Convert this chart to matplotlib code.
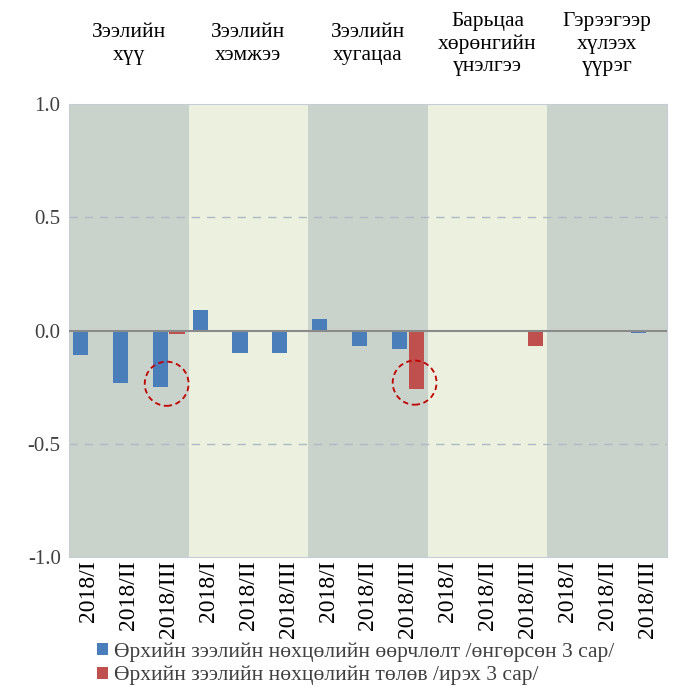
import numpy as np
import matplotlib.pyplot as plt
from matplotlib.patches import Ellipse

plt.rcParams['font.family'] = ['Liberation Serif', 'DejaVu Serif']

# Ангилал, улирал
groups = ['Зээлийн\nхүү', 'Зээлийн\nхэмжээ', 'Зээлийн\nхугацаа',
          'Барьцаа\nхөрөнгийн\nүнэлгээ', 'Гэрээгээр\nхүлээх\nүүрэг']
quarters = ['2018/I', '2018/II', '2018/III']
labels = quarters * len(groups)

# Өгөгдөл
past = [-0.11, -0.23, -0.25, 0.09, -0.10, -0.10, 0.05, -0.07, -0.08,
        0.0, 0.0, 0.0, 0.0, -0.005, -0.01]
future = [0.0, 0.0, -0.015, 0.0, 0.0, -0.005, 0.0, 0.0, -0.26,
          0.0, 0.0, -0.07, 0.0, 0.0, 0.0]

x = np.arange(len(labels))
fig = plt.figure(figsize=(6.73, 6.88), dpi=100)
ax = fig.add_axes([0.1025, 0.1904, 0.8885, 0.6584])

# Арын өнгөт зурвас
band_colors = ['#c9d3cb', '#ebf0df']
for g in range(len(groups)):
    ax.axvspan(g * 3 - 0.5, g * 3 + 2.5, color=band_colors[g % 2], zorder=0, lw=0)

for yv in [0.5, -0.5]:
    ax.axhline(yv, color='#b0b8c4', lw=1, ls=(0, (6, 5)), zorder=1)

ax.bar(x - 0.21, past, width=0.38, color='#4a7ebb', zorder=3,
       label='Өрхийн зээлийн нөхцөлийн өөрчлөлт /өнгөрсөн 3 сар/')
ax.bar(x + 0.21, future, width=0.38, color='#c0504d', zorder=3,
       label='Өрхийн зээлийн нөхцөлийн төлөв /ирэх 3 сар/')
ax.axhline(0, color='#8a8a8a', lw=1.5, zorder=4)

# Улаан тасархай тойрог
for xc, yc in [(2 - 0.05, past[2] + 0.015), (8 + 0.17, future[8] + 0.03)]:
    ax.add_patch(Ellipse((xc, yc), 1.1, 0.195, fill=False, ec='#c00000',
                         lw=1.3, ls=(0, (3, 2)), zorder=5))

ax.set_xlim(-0.5, len(labels) - 0.5)
ax.set_ylim(-1.0, 1.0)
ax.set_yticks([-1.0, -0.5, 0.0, 0.5, 1.0])
ax.set_yticklabels(['-1.0', '-0.5', '0.0', '0.5', '1.0'])
ax.set_xticks(x)
ax.set_xticklabels(labels, rotation=90)
ax.tick_params(axis='y', length=0, labelsize=15, colors='#404040', pad=6)
ax.tick_params(axis='x', length=0, labelsize=17, labelcolor='black', pad=2)
for s in ax.spines.values():
    s.set_color('#c8ccd4')

for g, name in enumerate(groups):
    ax.text(g * 3 + 1, 1.265, name, ha='center', va='center', fontsize=15.5,
            linespacing=1.25, transform=ax.transData, clip_on=False)

fig.legend(loc='upper left', bbox_to_anchor=(0.115, 0.095), frameon=False,
           fontsize=15.5, handlelength=0.5, handleheight=0.5, handletextpad=0.3,
           labelspacing=0.2, labelcolor='#404040')

fig.savefig('out.png', dpi=100)
